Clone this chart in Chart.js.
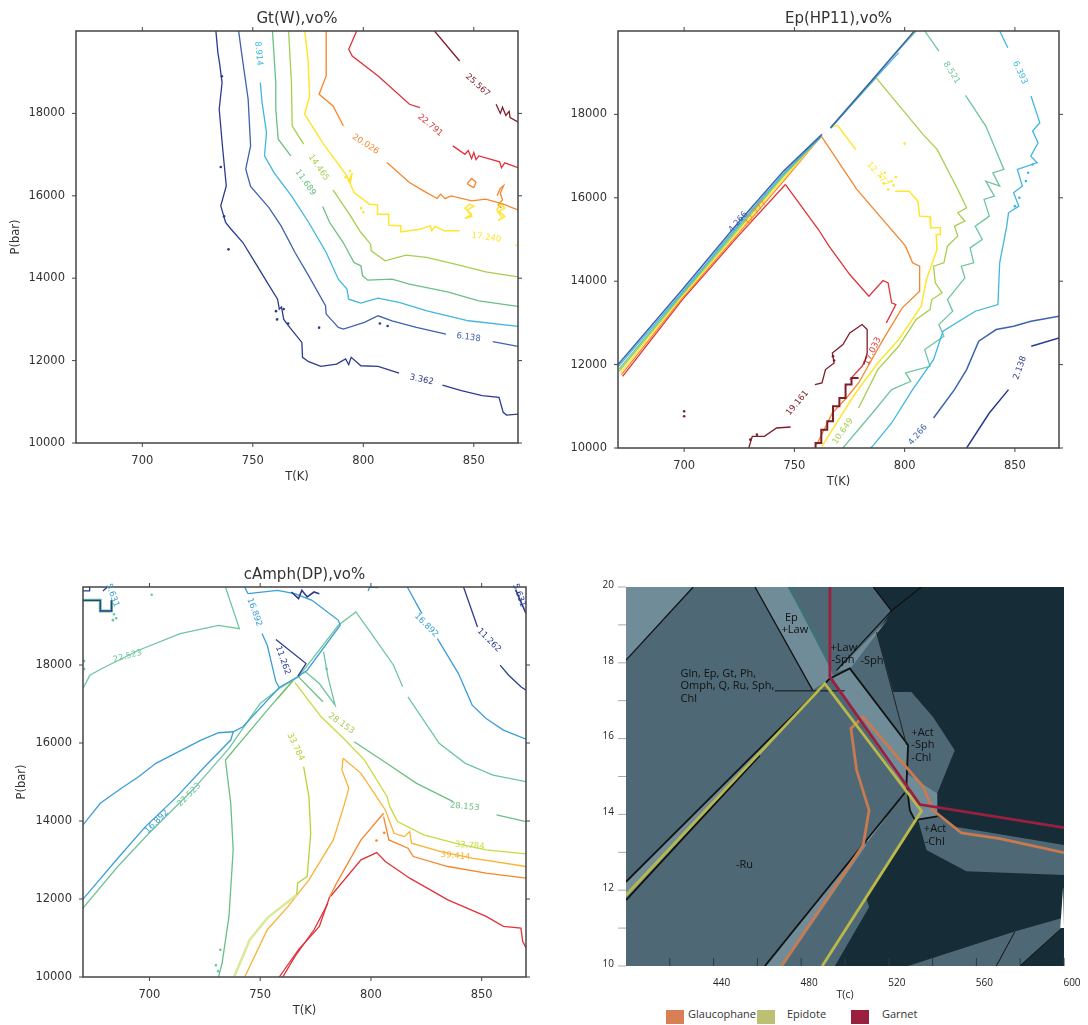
<!DOCTYPE html>
<html>
<head>
<meta charset="utf-8">
<title>Phase diagrams</title>
<script src="https://cdn.jsdelivr.net/npm/chart.js@4/dist/chart.umd.js"></script>
<style>
html, body { margin: 0; padding: 0; background: #fff; }
#page { position: relative; width: 1088px; height: 1025px; overflow: hidden; }
canvas { position: absolute; filter: blur(0.35px); }
.patch { position: absolute; top: 1010px; height: 14px; }
.name { position: absolute; top: 1006px; font: 11px "Open Sans", sans-serif; color: #333; }
</style>
</head>
<body>
<div id="page">
<canvas id="gt" width="530" height="485" style="left:0;top:0"></canvas>
<canvas id="ep" width="511" height="490" style="left:560px;top:0"></canvas>
<canvas id="amph" width="538" height="463" style="left:0;top:556px"></canvas>
<canvas id="meta" width="498" height="432" style="left:590px;top:570px"></canvas>
</div>
<script>
const tempTicks = [700, 750, 800, 850];
const pressTicks = [10000, 12000, 14000, 16000, 18000];
const metaXTicks = [420, 440, 460, 480, 500, 520, 540, 560, 580, 600];
const metaXLabels = [440, 480, 520, 560, 600];
const metaYTicks = [10, 11, 12, 13, 14, 15, 16, 17, 18, 19, 20];
const metaYLabels = [10, 12, 14, 16, 18, 20];

// Gt(W) contours, [T, P], null breaks the line where the label sits
const gt3362 = [[733.3,20000],[734.2,19474],[735,19200],[736.1,18747],[734.8,18100],[736.4,17130],[738,16240],[735.5,15756],[737.7,15352],[740,15200],[745.5,14866],[751,14382],[756.5,13897],[761.2,13492],[762,13250],[763,13300],[764,13000],[766.7,12805],[772.2,12441],[772.5,12078],[775.3,11973],[780.8,11859],[787.9,11916],[792,12040],[793.4,11900],[794.5,12080],[798.9,11875],[806.7,11859],[816.2,11698],null,[835.8,11407],[844.4,11269],[853.8,11148],[861.4,11108],[863.3,10744],[864.8,10679],[870,10703]];
const gt6138 = [[743.6,20000],[744.7,19555],[747.9,18343],[749,17211],[746.8,16645],[749,16225],[757.3,15715],[762.8,15271],[769.1,14624],[775.3,14058],[782.9,13331],[783.2,13129],[788.7,12805],[791,12765],[800.5,12926],[806.7,13088],[813,12967],[824,12805],[837.4,12643],null,[858.6,12458],[870,12344]];
const gt8914 = [[753.4,18747],[754.2,18262],[756.2,17534],[755.3,16968],[759.6,16564],[767.5,15998],[775.3,15352],[783.2,14624],[788.7,13977],[792.6,13735],[793.4,13492],[798.9,13395],[806.7,13517],[816.2,13411],[828.8,13209],[847.6,12967],[870,12829]];
const gt11689 = [[758.9,20000],[760.4,18747],[760.4,18100],[761.5,17373],[767.2,16968],null,[781.6,15740],[784.8,15352],[790.9,14866],[795.8,14382],[798.9,14301],[799.7,14058],[802,13953],[813,13977],[820.9,13856],[838.1,13670],[852.3,13452],[870,13314]];
const gt14465 = [[766.2,20000],[767.5,18747],[767.8,17696],[773,17252],null,[786.3,16144],[794.2,15513],[798.9,15109],[803.3,14826],[803.6,14664],[809.9,14422],[819.3,14559],[828.7,14503],[842.9,14325],[855.4,14155],[870,14034]];
const gt17240 = [[773.5,20000],[775,19312],[775.7,18424],[773.5,17980],[781.6,17284],[792.6,16483],[793.5,16350],[795,16550],[794,16300],[795.8,16079],[802.8,15796],[806.4,15780],[806.4,15554],[811.5,15554],[811.5,15287],[817,15271],[817,15125],[825.6,15190],[830.3,15271],[831,15150],[832.5,15260],[836.6,15150],[843.6,15150],null,[868.8,14802],[870,14802]];
const gt20026 = [[783.2,20000],[783.2,18909],[780,18464],[786.3,18181],[791,17696],null,[810.7,16807],[820.9,16322],[827.2,16120],[833.4,15934],[835,16040],[837,15930],[839.7,15998],[849.1,15877],[855.4,15917],[863.3,15796],[870,15659]];
const gt22791 = [[797,20000],[793.4,19555],[795,19393],[806.7,18909],[820.9,18221],[825.6,18141],null,[840.5,17211],[846,17008],[847.5,17100],[849,16900],[850,17050],[851,16880],[852.3,16968],[861.7,16823],[862.5,16680],[864,16800],[870,16685]];
const gt25567 = [[832.2,20000],[843.6,19272],null,[860.1,18221],[862,18000],[863,18150],[864.5,17950],[866,18050],[866.4,17898],[870,17793]];
const gtYellowLoopA = [[846,15450],[849,15500],[847,15650],[850,15750],[848,15800],[846,15700],[849,15550],[846,15450]];
const gtYellowLoopB = [[861,15400],[864,15500],[861.5,15620],[864,15700],[862,15820],[860.5,15650],[863,15450]];
const gtOrangeLoopA = [[847,16300],[849,16420],[851,16330],[850,16200],[848,16260],[847,16300]];
const gtOrangeLoopB = [[860.5,16000],[862,16180],[863.5,16250],[862,16060],[863,15900],[861,15780],[862.5,15700]];
const gtYellowDots = [[799,15700],[800,15600],[794,16600],[792,16450]];
const gtBlueDots = [[739,14700],[736,18900],[735.5,16700],[737,15500],[780,12800],[766,12900],[761,13000],[760.5,13200],[764,13250],[811,12840],[807.5,12900]];

// Ep(HP11) contours
const ep2138 = [[828.1,10000],[838.4,10840],[847.1,11400],null,[857.4,12440],[870,12640]];
const ep4266 = [[813.1,10720],[822.6,11400],[828.1,11880],[833.6,12560],[841.5,12840],[849.4,12920],[857.3,13040],[870,13160]];
const ep4266Ridge = [[670,12000],[699.2,13800],[724.5,15400],[745.1,16640],[762.5,17520],null,[766.4,17680],[786.2,18880],[804.4,20000]];
const ep6393 = [[843.1,20000],[846.8,19600],null,[857.3,18440],[861.3,17800],[858,17600],[860.5,17320],[857.2,17000],[860.1,16840],[851.1,16680],[853.4,16280],[849.4,16120],[851.8,15800],[847.1,15640],[846.3,15320],[843.1,14440],[842.3,13440],[832,13280],[817.4,12800],[813.1,12120],[803.6,11400],[794.1,10600],[785.4,10040],[784.5,10000]];
const ep6393Ridge = [[670,11944],[699.2,13736],[724.5,15336],[745.1,16584],[762.2,17464],null,[766.4,17664],[786.2,18840],[797.3,19480]];
const ep8521 = [[809.1,20000],[815.5,19520],null,[827.6,18456],[836.8,17720],[845,16680],[840,16600],[843.1,16280],[836.8,16400],[840.7,16040],[836,15960],[838.4,15560],[832,15320],[835.2,15000],[829.7,14800],[831.3,14440],[825.7,14360],[827.3,14080],[819.4,13560],[821.8,13280],[815.5,12960],[817.8,12680],[809.1,12360],[811.5,11960],[800.4,11800],[802.8,11600],[794.1,11400],[785.4,10840],[772,10000]];
const ep8521Ridge = [[670.5,11896],[699.2,13704],[724.5,15288],[745.1,16552],[762.2,17480],null,[766.4,17680],[794.1,19360],[805.2,20000]];
const ep10649 = [[787,18880],[808.3,17520],[814.7,17160],[824.1,16200],[828.1,15760],[824.1,15640],[827.3,15440],[822.6,15320],[824.1,15080],[819.4,14840],[817.8,14440],[813.1,14360],[813.9,13960],[817,13720],[812.3,13560],[811.5,13320],[805.2,13080],[797.3,12440],[787.8,11880],[779.1,10960]];
const ep10649Ridge = [[670.5,11840],[699.2,13680],[724.5,15240],[745.1,16520],[762.2,17480],null,[766.4,17672],[787,18880]];
const ep12777 = [[769.6,17736],[777.8,17160],null,[795.7,16160],[802,16160],[806,15920],[806.8,15560],[811.5,15544],[811.8,15280],[816.2,15280],[816.2,15120],[814.3,15120],[814.7,14760],[809.9,14040],[807.5,13400],[797.3,12600],[787.8,12040],[776.7,11240],[762.5,10040]];
const ep12777Ridge = [[671.1,11800],[699.2,13640],[724.5,15184],[745.1,16456],[762.2,17480],null,[766.4,17680],[769.6,17736]];
const ep14905 = [[762.2,17480],[778.3,16200],[800.4,14840],[803.6,14440],[806.8,14360],[806.8,13760],[798.9,13360],[790.2,12600],[779.1,11560],[773.6,11200],[767.2,10840],[760.1,10080]];
const ep14905Ridge = [[671.6,11760],[699.2,13600],[724.5,15136],[745.1,16400],[762.2,17480]];
const ep17033 = [[745.9,16320],[760.9,15240],[765.7,14840],[775.1,14160],[783.8,13640],[790.2,14016],[792.5,13960],[794.1,13480],[796,13440],[791.7,13000],null,[783,12200],[780.7,11960],[775.1,11640]];
const ep17033Ridge = [[672.1,11720],[699.2,13560],[724.5,15080],[745.9,16320]];
const ep19161Steps = [[759.6,10000],[759.6,10120],[762.2,10120],[762.2,10440],[764.9,10440],[764.9,10640],[767.5,10640],[767.5,11000],[770.4,11000],[770.4,11200],[773.2,11200],[773.2,11520],[775.9,11520],[775.9,11680],[779.1,11680]];
const ep19161 = [[759.3,11520],[762.5,11560],[764.1,11880],[768,12040],[767.2,12280],[772,12480],[775.1,12760],[780.7,12960],[783,12840],[783,12280],[781.5,12000]];
const ep19161Low = [[729.3,10000],[730.9,10280],[736.4,10280],[741.9,10480],[748.3,10504]];
const epDarkDots = [[700,10880],[700,10760],[730,10200],[733,10320],[768,12100],[767.5,12200]];
const epYellowDots = [[794,16400],[791,16600],[795,16300],[800,17300],[789,16500],[792.5,16200],[796,16500],[790.5,16350]];
const epCyanDots = [[855,16400],[852,16000],[858,16800],[850,15800],[856,16600]];

// cAmph(DP) contours
const am11262A = [[841.8,20000],[848.1,18976],null,[858.3,17995],[862.2,17739],[867.7,17440],[870,17355]];
const am11262B = [[757.1,18651],[770.7,18037],[767,17713]];
const am11262Top = [[764.1,19872],[767.3,19701],[768.8,19915],[771.2,19744],[774.3,19872],[776.7,19829]];
const am11262Corner = [[865.3,19932],[870,19320]];
const amStep = [[670,19658],[677.8,19658],[677.8,19385],[682.9,19385],[682.9,19658]];
const amStepTop = [[670,19900],[673,19900],[673,20000],null,[679,19900],[681,20000]];
const am16892A = [[816.4,20000],[823,19318],null,[830,18677],[839.5,17781],[845.7,16971],[852,16630],[859.8,16331],[870,16100]];
const am16892B = [[743,20000],[744.5,19829],null,[750.8,18805],[753.2,18506],[757.1,17568],[758.6,17423]];
const am16892C = [[744.5,19829],[757.8,19915],[765.6,19829],[773.4,19658],[785.3,19145],[786.1,19018],[771.2,17867],[767.3,17713],[758.6,17423],[742.2,16416],[737.8,16288],[731.2,16263],[723.3,16075],[702.9,15478],[695.1,15136],[687.3,14838],[677.8,14454],[670,13899]];
const am16892D = [[670,11996],[685.7,13046],[698.2,13857],[712.4,14624],[724.9,15392],[736.7,16075],[737.8,16288]];
const am16892E = [[798.7,19900],[799.4,20000],[803.4,19983]];
const am22523A = [[670,17397],[673.1,17739],[678.6,17910],[695.1,18379],[713.9,18805],[731.2,19018],[740.6,18933],[734.3,20000]];
const am22523B = [[670,11766],[685.7,12833],[699.8,13686],[720.2,14838],[735.9,15862],[750,17013],[758.6,17397],[767.3,17696],[785.3,19018],[793.2,19360],[800.2,18805],[810.2,17995],[814.3,17440],null,[816.7,17184],[830.8,15990],[842.6,15478],[855.1,15179],[870,15008]];
const am22523C = [[778.6,18336],[780.6,17696],[783.8,16971],[776.7,17525],[770.4,17824]];
const am28153A = [[767.3,17696],[778.3,17056],null,[792.4,16032],[804.9,15563],[820.6,14966],[837.1,14496],null,[856.7,14155],[870,13984]];
const am28153B = [[764.9,17610],[753.2,16843],[734.3,15563],[736.7,14454],[737.8,13259],[735.9,11553],[732.8,10358],[731.2,10000]];
const am33784A = [[765.7,17653],[757.9,17141],null,[769.6,15392],[772,14624],[772.8,13686],[771.2,12577],[766.9,12406],[766.5,12107]];
const am33784Thick = [[766.5,12107],[753.2,11510],[745.3,10956],[738.2,10000]];
const am33784B = [[765.7,17550],[777.5,16672],[787.7,16117],[797.1,15563],[807.3,14624],[808.5,14368],[812,13984],[823.8,13643],[837.9,13430],[852,13259],[870,13157]];
const am39414A = [[787.4,15606],[795.5,15222],[806.5,14283],[810.4,13686],[815.1,13600],[817.5,13728],[818.3,13430],[831.6,13217],[845.7,13046],[870,12833]];
const am39414B = [[787.4,15606],[786.9,15307],[790,14838],[787.7,14368],[783,13515],[772,12491],[762.6,11809],[753.2,11212],[743,10000]];
const am45045A = [[805.7,14113],[808.1,13515],[816.7,13302],[819.1,13089],[834.7,12833],[852,12662],[870,12534]];
const am45045B = [[805.7,14198],[795.5,13515],[784.5,12406],[781.4,12065]];
const am50675A = [[781.7,12065],[795.5,13003],[802.6,13191],[806.5,12961],[817.5,12534],[834.7,11979],[852,11553],[859.8,11297],[867.7,11254],[868.5,10913],[870,10742]];
const am50675B = [[781.4,12065],[776.7,11297],[767.3,10700],[758.6,10000]];
const am50675C = [[780.6,11894],[774.3,11211],[765.7,10529],[760.2,10000]];
const amTealDots = [[684,19300],[685,19200],[683.5,19150],[670.5,18100],[670.5,17900],[701,19800],[780,17900],[732,10700],[730,10300],[731,10150]];
const amRedDots = [[802.5,13500],[806,13700]];

// metamorphic field map, [T(c), P(kbar)]
const fieldBase = [[400,20],[600,20],[600,10],[400,10]];
const fieldDark = [[512.9,20],[600,20],[600,10],[495.4,10],[511,11.56],[509.8,11.78],[533.4,13.89],[542.1,13.98],[542.1,14.55],[550.1,15.69],[540.2,16.57],[530.3,17.23],[522,17.23],[514.4,18.81],[521.2,19.37]];
const fieldBand = [[533.4,13.85],[542.1,13.95],[550.9,13.67],[600,13.19],[600,12.4],[555.4,12.5],[537.2,13.06]];
const fieldCorner = [[528.8,10],[577.5,10.91],[598.8,11.26],[598.8,10.99],[579.8,10]];
const fieldLightA = [[400,20],[430.7,20],[400,18.07]];
const fieldLightB = [[458.9,20],[474.1,20],[493.8,17.8],[494.6,17.63],[485.2,17.28]];
const fieldLightC = [[493.8,17.63],[502.2,17.82],[528.8,15.83],[528.1,15.08],[542.1,14.55],[542.1,13.95],[531.1,13.85],[528.1,14.6]];
const fieldLightD = [[400,12.22],[490,17.45],[461.1,15.56],[400,11.74]];
const fieldLightE = [[464.2,10],[508.3,13.23],[509.8,13.19],[471.8,10]];
const fieldLightF = [[496.1,17.76],[519.7,19.16],[503,17.89]];
const fieldPaleA = [[508.6,13.25],[520.5,14.05],[510.5,13.3]];
const fieldWhite = [[599.6,12.09],[600,11],[598.3,11]];
const edgeA = [[400,18.07],[430.7,20]];
const edgeB = [[458.9,20],[485.2,17.28]];
const edgeC = [[400,12.22],[493,17.58],[502.2,17.85],[528.8,15.83],[528.1,14.82],[529.6,14.11],[531.9,13.85],[542.1,13.95]];
const edgeD = [[400,11.74],[461.1,15.56]];
const edgeE = [[463.4,10],[527.3,14.57]];
const edgeF = [[512.9,20],[521.2,19.37],[534.9,20]];
const edgeG = [[521.2,19.37],[496.1,17.8]];
const edgeH = [[514.4,18.81],[528.1,15.83]];
const edgeI = [[468,17.26],[499.9,17.26]];
const edgeJ = [[569.1,10],[577.5,10.9]];
const edgeK = [[579.8,10],[598.8,10.99]];
const edgeTeal = [[512.9,20],[474.1,20],[493.1,18.02]];
const glaucophane = [[471,10],[508.3,13.19],[511,14.11],[505.3,15.17],[502.7,16.27],[508.3,16.57],[535.7,14.73],[540.2,14.11],[553.2,13.51],[570.7,13.36],[600,12.99]];
const epidote = [[400,11.87],[490.8,17.45],[534.9,14.09],[489.6,10]];
const garnet = [[493.1,20],[493.1,17.63],[534.2,14.26],[600,13.65]];

const legendNames = ["Glaucophane", "Epidote", "Garnet"];
const legendColors = ["#d97f55", "#bcc072", "#9b2040"];

const navy = "#2c3c8c", blue = "#3f62ad", cyan = "#41b6e0", sky = "#3a9fd8", teal = "#6fc59e";
const green = "#6cbf84", lime = "#a6cf4f", yellow = "#ffe52e", amber = "#f9b233", orange = "#f5862e", red = "#e0323a", maroon = "#7f1d28";
const fieldMid = "#4e6975", fieldNight = "#162d38", fieldLight = "#708c98";

function xy(list) {
    return list.map(p => p ? { x: p[0], y: p[1] } : { x: null, y: null });
}
function line(list, color, width) {
    return { data: xy(list), showLine: true, borderColor: color, borderWidth: width || 1.3, pointRadius: 0, fill: false, spanGaps: false, tension: 0 };
}
function dots(list, color) {
    return { data: xy(list), showLine: false, pointRadius: 1.3, backgroundColor: color, borderWidth: 0 };
}
function area(list, color) {
    return { data: xy(list.concat([list[0]])), showLine: true, borderWidth: 0, borderColor: color, backgroundColor: color, fill: 'shape', pointRadius: 0, tension: 0 };
}

function frame(o) {
    return {
        id: 'frame',
        afterDatasetsDraw(chart) {
            const c = chart.ctx, a = chart.chartArea;
            const sx = chart.scales.x, sy = chart.scales.y;
            c.save();
            c.lineWidth = 1;
            c.strokeStyle = o.tickColor;
            c.beginPath();
            sx.ticks.forEach(t => {
                const px = sx.getPixelForValue(t.value);
                if (o.inner) {
                    c.moveTo(px, a.bottom); c.lineTo(px, a.bottom - o.len);
                } else {
                    c.moveTo(px, a.bottom); c.lineTo(px, a.bottom + o.len);
                    c.moveTo(px, a.top); c.lineTo(px, a.top - o.len);
                }
            });
            c.stroke();
            c.strokeStyle = o.sideColor || o.tickColor;
            c.beginPath();
            sy.ticks.forEach(t => {
                const py = sy.getPixelForValue(t.value);
                c.moveTo(a.left, py); c.lineTo(a.left - o.len, py);
                if (!o.inner) { c.moveTo(a.right, py); c.lineTo(a.right + o.len, py); }
            });
            c.stroke();
            if (!o.inner) {
                c.lineWidth = 1.5;
                c.strokeStyle = o.tickColor;
                c.strokeRect(a.left, a.top, a.right - a.left, a.bottom - a.top);
            }
            c.restore();
        }
    };
}

// text on the plot, placed in data coordinates
function notes(list, font) {
    return {
        id: 'notes',
        afterDatasetsDraw(chart) {
            const c = chart.ctx;
            c.save();
            c.font = font;
            list.forEach(n => {
                c.save();
                c.translate(chart.scales.x.getPixelForValue(n.t), chart.scales.y.getPixelForValue(n.p));
                c.rotate((n.angle || 0) * Math.PI / 180);
                c.textAlign = n.align || 'center';
                c.textBaseline = 'middle';
                c.fillStyle = n.color || '#111';
                c.fillText(n.text, 0, 0);
                c.restore();
            });
            c.restore();
        }
    };
}

function phaseOptions(titleText, yWidth, yTitle, yTitleGap) {
    return {
        responsive: false,
        animation: false,
        layout: { padding: { right: 12 } },
        plugins: {
            legend: { display: false },
            tooltip: { enabled: false },
            title: {
                display: true,
                fullSize: false,
                text: titleText,
                color: '#333',
                font: { family: 'DejaVu Sans', size: 15, weight: 'normal', lineHeight: 1.2 },
                padding: { top: 10, bottom: 3 }
            }
        },
        scales: {
            x: {
                type: 'linear', min: 670, max: 870,
                afterBuildTicks: s => { s.ticks = tempTicks.map(v => ({ value: v })); },
                afterFit: s => { s.height = 42; s.paddingLeft = 0; s.paddingRight = 0; },
                grid: { display: false },
                border: { display: false },
                ticks: { color: '#333', maxRotation: 0, autoSkip: false, padding: 3, font: { family: 'DejaVu Sans', size: 11.5 } },
                title: { display: true, text: 'T(K)', color: '#333', padding: 0, font: { family: 'DejaVu Sans', size: 11.5, lineHeight: 1.4 } }
            },
            y: {
                type: 'linear', min: 10000, max: 20000,
                afterBuildTicks: s => { s.ticks = pressTicks.map(v => ({ value: v })); },
                afterFit: s => { s.width = yWidth; s.paddingTop = 0; s.paddingBottom = 0; },
                grid: { display: false },
                border: { display: false },
                ticks: { color: '#333', autoSkip: false, padding: 3, callback: v => String(v), font: { family: 'DejaVu Sans', size: 11.5 } },
                title: { display: yTitle, text: 'P(bar)', color: '#333', padding: { top: yTitleGap, bottom: 0 }, font: { family: 'DejaVu Sans', size: 11.5, lineHeight: 1.4 } }
            }
        }
    };
}

new Chart(document.getElementById("gt").getContext("2d"), {
    type: 'scatter',
    data: {
        datasets: [
            line(gt3362, navy), line(gt6138, blue), line(gt8914, cyan), line(gt11689, green), line(gt14465, lime),
            line(gt17240, yellow, 1.5), line(gt20026, orange), line(gt22791, red), line(gt25567, maroon),
            line(gtYellowLoopA, yellow, 1.5), line(gtYellowLoopB, yellow, 1.5), line(gtOrangeLoopA, orange), line(gtOrangeLoopB, orange),
            dots(gtYellowDots, yellow), dots(gtBlueDots, navy)
        ]
    },
    options: phaseOptions('Gt(W),vo%', 76, true, 8),
    plugins: [frame({ tickColor: '#444', len: 4 }), notes([
        { t: 752.6, p: 19454, text: '8.914', angle: 85, color: cyan },
        { t: 773.8, p: 16322, text: '11.689', angle: 55, color: green },
        { t: 779.8, p: 16685, text: '14.465', angle: 55, color: lime },
        { t: 801, p: 17251, text: '20.026', angle: 33, color: orange },
        { t: 830.3, p: 17712, text: '22.791', angle: 40, color: red },
        { t: 851.8, p: 18682, text: '25.567', angle: 42, color: maroon },
        { t: 855.7, p: 14988, text: '17.240', angle: 8, color: yellow },
        { t: 847.6, p: 12563, text: '6.138', angle: 7, color: blue },
        { t: 826.4, p: 11536, text: '3.362', angle: 12, color: navy }
    ], '8.5px "DejaVu Sans"')]
});

new Chart(document.getElementById("ep").getContext("2d"), {
    type: 'scatter',
    data: {
        datasets: [
            line(ep19161Low, maroon), line(ep19161, maroon), line(ep19161Steps, maroon, 2),
            line(ep2138, navy, 1.5), line(ep4266, blue, 1.5), line(ep4266Ridge, blue, 1.5),
            line(ep6393, cyan), line(ep6393Ridge, cyan), line(ep8521, teal), line(ep8521Ridge, teal),
            line(ep10649, lime), line(ep10649Ridge, lime), line(ep12777, yellow, 1.5), line(ep12777Ridge, yellow),
            line(ep14905, orange), line(ep14905Ridge, orange), line(ep17033, red), line(ep17033Ridge, red),
            dots(epDarkDots, maroon), dots(epYellowDots, yellow), dots(epCyanDots, cyan)
        ]
    },
    options: phaseOptions('Ep(HP11),vo%', 58, false, 0),
    plugins: [frame({ tickColor: '#444', len: 4 }), notes([
        { t: 852.3, p: 19000, text: '6.393', angle: 65, color: cyan },
        { t: 821.3, p: 19000, text: '8.521', angle: 58, color: teal },
        { t: 787.8, p: 16560, text: '12.777', angle: 50, color: yellow },
        { t: 751.4, p: 11080, text: '19.161', angle: -50, color: maroon },
        { t: 785.4, p: 12320, text: '17.033', angle: -65, color: red },
        { t: 772, p: 10400, text: '10.649', angle: -55, color: lime },
        { t: 806, p: 10320, text: '4.266', angle: -50, color: blue },
        { t: 852.3, p: 11920, text: '2.138', angle: -70, color: navy },
        { t: 724.5, p: 15420, text: '4.266', angle: -50, color: blue },
        { t: 732.4, p: 15640, text: '12.777', angle: -50, color: orange }
    ], '8.5px "DejaVu Sans"')]
});

new Chart(document.getElementById("amph").getContext("2d"), {
    type: 'scatter',
    data: {
        datasets: [
            line(amStep, navy), line(amStep, teal, 3), line(amStepTop, navy),
            line(am11262A, navy), line(am11262B, navy), line(am11262Top, navy, 1.6), line(am11262Corner, navy, 1.6),
            line(am16892A, sky), line(am16892B, sky), line(am16892C, sky), line(am16892D, sky), line(am16892E, sky),
            line(am22523A, teal), line(am22523B, teal), line(am22523C, teal),
            line(am28153A, green), line(am28153B, green),
            line(am33784A, "#b5d334"), line(am33784Thick, "#dde89a", 2.5), line(am33784B, "#c5dc3c"),
            line(am39414A, amber), line(am39414B, amber),
            line(am45045A, orange), line(am45045B, orange),
            line(am50675A, red), line(am50675B, red), line(am50675C, red),
            dots(amTealDots, teal), dots(amRedDots, orange)
        ]
    },
    options: phaseOptions('cAmph(DP),vo%', 83, true, 14),
    plugins: [frame({ tickColor: '#444', len: 4 }), notes([
        { t: 690.1, p: 18225, text: '22.523', angle: -15, color: teal },
        { t: 747.4, p: 19356, text: '16.892', angle: 70, color: sky },
        { t: 760.2, p: 18122, text: '11.262', angle: 70, color: navy },
        { t: 825, p: 19018, text: '16.892', angle: 45, color: sky },
        { t: 853.3, p: 18635, text: '11.262', angle: 45, color: navy },
        { t: 786.6, p: 16500, text: '28.153', angle: 35, color: lime },
        { t: 842.3, p: 14368, text: '28.153', angle: 5, color: green },
        { t: 766, p: 15904, text: '33.784', angle: 65, color: "#b5d334" },
        { t: 844.6, p: 13370, text: '33.784', angle: 5, color: "#c5dc3c" },
        { t: 838.2, p: 13106, text: '39.414', angle: 5, color: amber },
        { t: 717.9, p: 14667, text: '22.523', angle: -45, color: teal },
        { t: 703.3, p: 13985, text: '16.892', angle: -45, color: sky },
        { t: 683.3, p: 19787, text: '5.631', angle: 70, color: sky },
        { t: 866.9, p: 19787, text: '5.631', angle: 70, color: navy }
    ], '8.5px "DejaVu Sans"')]
});

// Chart.js paints the first dataset last, so the list runs top layer first
new Chart(document.getElementById("meta").getContext("2d"), {
    type: 'scatter',
    data: {
        datasets: [
            line(garnet, "#9b2040", 2.8), line(epidote, "#b9b84a", 2.8), line(glaucophane, "#c97a50", 2.8),
            line(edgeTeal, "#2a7d7a", 1.2),
            line(edgeK, "#111", 1), line(edgeJ, "#111", 1), line(edgeI, "#111", 1), line(edgeH, "#222", 1), line(edgeG, "#111", 1.3), line(edgeF, "#111", 1.3),
            line(edgeE, "#111", 1.8), line(edgeD, "#111", 1.8), line(edgeC, "#111", 1.8), line(edgeB, "#111", 1.3), line(edgeA, "#111", 1.3),
            area(fieldWhite, "#ffffff"), area(fieldPaleA, "#a9bac1"), area(fieldLightF, fieldLight), area(fieldLightE, fieldLight),
            area(fieldLightD, fieldLight), area(fieldLightC, fieldLight), area(fieldLightB, fieldLight), area(fieldLightA, fieldLight),
            area(fieldCorner, fieldMid), area(fieldBand, fieldMid), area(fieldDark, fieldNight), area(fieldBase, fieldMid)
        ]
    },
    options: {
        responsive: false,
        animation: false,
        layout: { padding: { top: 17, right: 24 } },
        plugins: { legend: { display: false }, tooltip: { enabled: false } },
        scales: {
            x: {
                type: 'linear', min: 400, max: 600,
                afterBuildTicks: s => { s.ticks = metaXTicks.map(v => ({ value: v })); },
                afterFit: s => { s.height = 36; s.paddingLeft = 0; s.paddingRight = 0; },
                grid: { display: false },
                border: { display: false },
                ticks: { color: '#222', maxRotation: 0, autoSkip: false, padding: 3, labelOffset: 8, callback: v => metaXLabels.includes(v) ? String(v) : '', font: { family: 'Open Sans', size: 10 } },
                title: { display: true, text: 'T(c)', color: '#222', padding: 0, font: { family: 'Open Sans', size: 10.5, lineHeight: 1.4 } }
            },
            y: {
                type: 'linear', min: 10, max: 20,
                afterBuildTicks: s => { s.ticks = metaYTicks.map(v => ({ value: v })); },
                afterFit: s => { s.width = 36; s.paddingTop = 0; s.paddingBottom = 0; },
                grid: { display: false },
                border: { display: false },
                ticks: { color: '#222', autoSkip: false, padding: 4, labelOffset: -2, callback: v => metaYLabels.includes(v) ? String(v) : '', font: { family: 'Open Sans', size: 10 } }
            }
        }
    },
    plugins: [frame({ tickColor: '#2a3b44', sideColor: '#aaa', len: 8, inner: true }), notes([
        { t: 472.6, p: 19.19, text: 'Ep', align: 'left' },
        { t: 471, p: 18.87, text: '+Law', align: 'left' },
        { t: 493.4, p: 18.39, text: '+Law', align: 'left' },
        { t: 493.8, p: 18.07, text: '-Sph', align: 'left' },
        { t: 507.1, p: 18.05, text: '-Sph', align: 'left' },
        { t: 424.9, p: 17.71, text: 'Gln, Ep, Gt, Ph,', align: 'left' },
        { t: 424.9, p: 17.39, text: 'Omph, Q, Ru, Sph,', align: 'left' },
        { t: 424.9, p: 17.06, text: 'Chl', align: 'left' },
        { t: 530.3, p: 16.16, text: '+Act', align: 'left' },
        { t: 530.3, p: 15.83, text: '-Sph', align: 'left' },
        { t: 530.3, p: 15.5, text: '-Chl', align: 'left' },
        { t: 536, p: 13.62, text: '+Act', align: 'left' },
        { t: 536.4, p: 13.28, text: '-Chl', align: 'left' },
        { t: 450.2, p: 12.66, text: '-Ru', align: 'left' }
    ], '11px "Open Sans"')]
});

// legend under the map
const legendPatchX = [666, 757, 851];
const legendNameX = [688, 787, 882];
const page = document.getElementById("page");
legendNames.forEach((name, i) => {
    const patch = document.createElement("div");
    patch.className = "patch";
    patch.style.left = legendPatchX[i] + "px";
    patch.style.width = "18px";
    patch.style.background = legendColors[i];
    page.appendChild(patch);
    const label = document.createElement("div");
    label.className = "name";
    label.style.left = legendNameX[i] + "px";
    label.textContent = name;
    page.appendChild(label);
});
</script>
</body>
</html>
